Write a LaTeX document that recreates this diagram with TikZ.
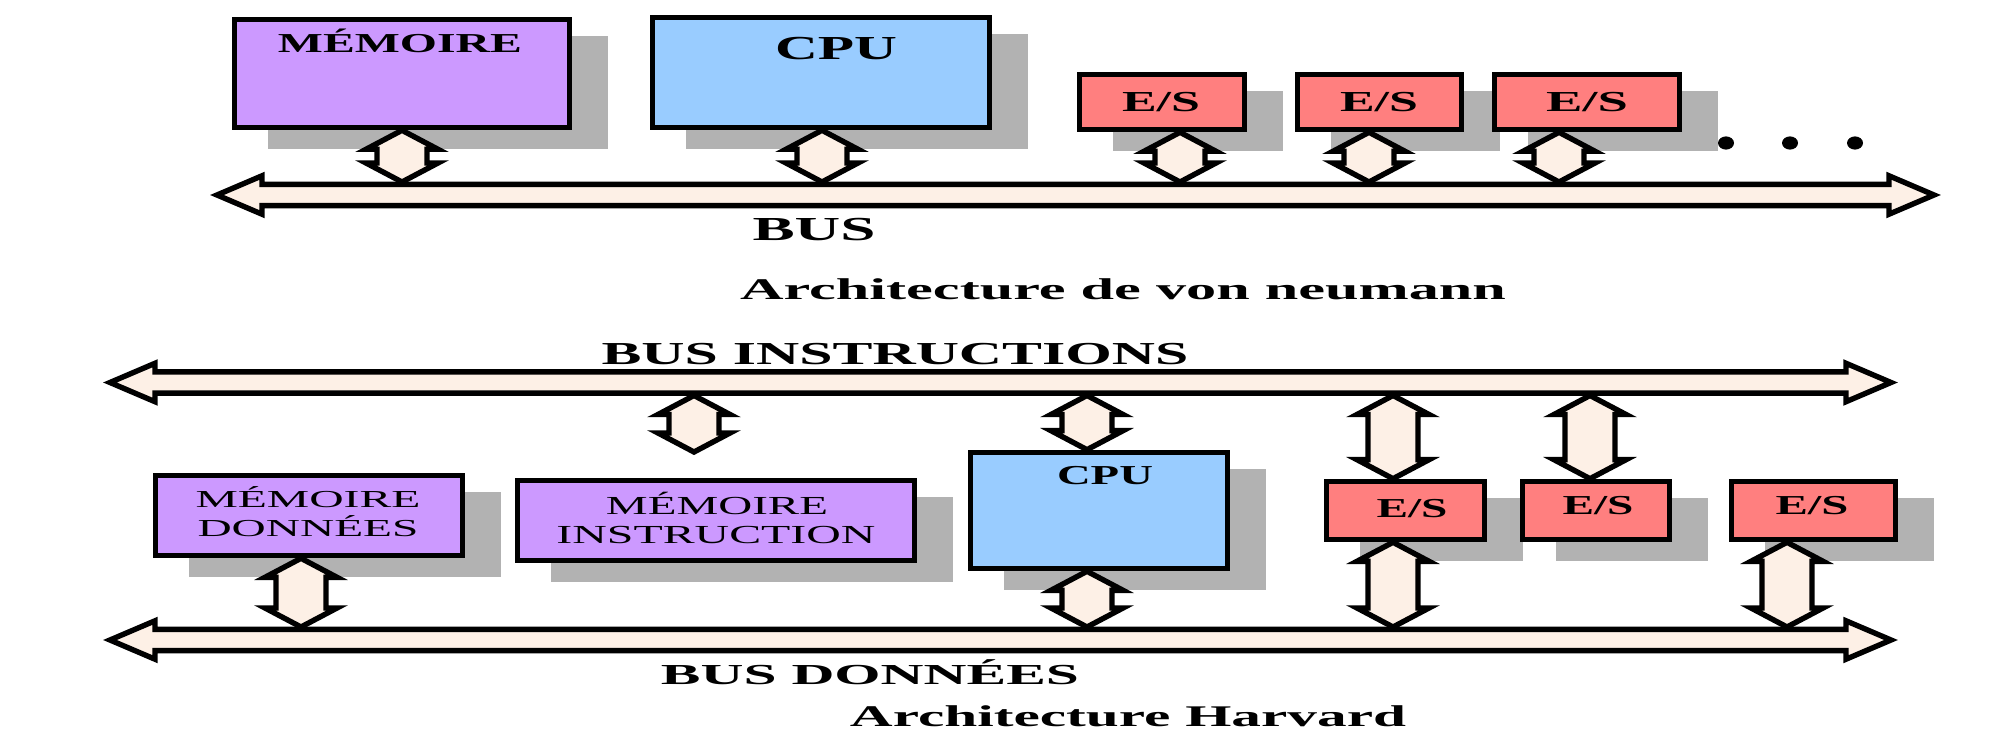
\documentclass[tikz,border=0pt]{standalone}
\usepackage{fontspec}
\setmainfont{Liberation Serif}
\usepackage{graphicx}
\usetikzlibrary{calc}
\definecolor{memcol}{HTML}{CC99FF}
\definecolor{cpucol}{HTML}{99CCFF}
\definecolor{escol}{HTML}{FF7F7F}
\definecolor{buscol}{HTML}{FDF0E6}
\definecolor{shadcol}{HTML}{B2B2B2}
\newsavebox\fitbox
\newcommand\fitw[3]{\sbox\fitbox{\fontsize{#2}{#2}\selectfont #3}\resizebox{#1}{\height}{\usebox\fitbox}}
\tikzset{
  box/.style={draw=black, line width=2.8pt, inner sep=0pt},
  lbl/.style={anchor=base, inner sep=0pt, outer sep=0pt},
  fatarr/.style={draw=black, fill=buscol, line width=2.7pt, line join=miter},
  shad/.style={fill=shadcol},
}
% vertical fat double arrow between two points (top, bottom)
\newcommand\fatarrow[2]{%
  \draw[fatarr] let \p1=(#1), \p2=(#2) in
   (\x1,\y1) -- (\x1+18pt,\y1-9.5pt) -- (\x1+12.5pt,\y1-9.5pt) -- (\x1+12.5pt,\y2+9.5pt)
   -- (\x1+18pt,\y2+9.5pt) -- (\x1,\y2) -- (\x1-18pt,\y2+9.5pt) -- (\x1-12.5pt,\y2+9.5pt)
   -- (\x1-12.5pt,\y1-9.5pt) -- (\x1-18pt,\y1-9.5pt) -- cycle;}
% horizontal fat double arrow (bus) between two points (left, right)
\newcommand\fatbus[2]{%
  \draw[fatarr] let \p1=(#1), \p2=(#2) in
   (\x1,\y1) -- (\x1+22.5pt,\y1+9.6pt) -- (\x1+22.5pt,\y1+5.3pt) -- (\x2-22.5pt,\y1+5.3pt)
   -- (\x2-22.5pt,\y1+9.6pt) -- (\x2,\y1) -- (\x2-22.5pt,\y1-9.6pt) -- (\x2-22.5pt,\y1-5.3pt)
   -- (\x1+22.5pt,\y1-5.3pt) -- (\x1+22.5pt,\y1-9.6pt) -- cycle;}
\begin{document}
\begin{tikzpicture}[x=0.5pt,y=-0.5pt]
\fill[white] (0,0) rectangle (1990,731);
\useasboundingbox (0,0) rectangle (1990,731);

% ---------- shadows ----------
\fill[shad] (268,36) rectangle (608,149);
\fill[shad] (686,34) rectangle (1028,149);
\fill[shad] (1113,91) rectangle (1283,151);
\fill[shad] (1331,91) rectangle (1500,151);
\fill[shad] (1528,91) rectangle (1718,151);
\fill[shad] (189,492) rectangle (501,577);
\fill[shad] (551,497) rectangle (953,582);
\fill[shad] (1004,469) rectangle (1266,590);
\fill[shad] (1360,498) rectangle (1523,561);
\fill[shad] (1556,498) rectangle (1708,561);
\fill[shad] (1765,498) rectangle (1934,561);

% ---------- buses ----------
\coordinate (busAL) at (217,195);
\coordinate (busAR) at (1934,195);
\coordinate (busIL) at (110,382.5);
\coordinate (busIR) at (1891,382.5);
\coordinate (busDL) at (110,640);
\coordinate (busDR) at (1891,640);
\fatbus{busAL}{busAR}
\fatbus{busIL}{busIR}
\fatbus{busDL}{busDR}

% ---------- boxes ----------
\node[box, fill=memcol, minimum width=167.5pt, minimum height=54pt] (memA) at (402,73.5) {};
\node[box, fill=cpucol, minimum width=168.5pt, minimum height=55pt] (cpuA) at (821,72.5) {};
\node[box, fill=escol, minimum width=82.5pt, minimum height=27.5pt] (es1A) at (1162,102) {};
\node[box, fill=escol, minimum width=82pt, minimum height=27.5pt] (es2A) at (1379.5,102) {};
\node[box, fill=escol, minimum width=92.5pt, minimum height=27.5pt] (es3A) at (1587,102) {};
\node[box, fill=memcol, minimum width=153.5pt, minimum height=40pt] (memD) at (309,515.5) {};
\node[box, fill=memcol, minimum width=198.5pt, minimum height=40pt] (memI) at (716,520.5) {};
\node[box, fill=cpucol, minimum width=128.5pt, minimum height=58pt] (cpuB) at (1099,510.5) {};
\node[box, fill=escol, minimum width=79pt, minimum height=29pt] (es1B) at (1405.5,510.5) {};
\node[box, fill=escol, minimum width=73.5pt, minimum height=29pt] (es2B) at (1596,510.5) {};
\node[box, fill=escol, minimum width=82pt, minimum height=29pt] (es3B) at (1813.5,510.5) {};

% ---------- arrow columns ----------
\coordinate (a1) at (402,0);
\coordinate (a2) at (822,0);
\coordinate (a3) at (1180,0);
\coordinate (a4) at (1369,0);
\coordinate (a5) at (1559,0);
\coordinate (b1) at (694,0);
\coordinate (b2) at (1087,0);
\coordinate (b3) at (1393,0);
\coordinate (b4) at (1590,0);
\coordinate (b5) at (301,0);
\coordinate (b8) at (1787,0);
\coordinate (miend) at (694,452);

% von Neumann
\fatarrow{memA.south -| a1}{$(busAL -| a1)+(0,-13)$}
\fatarrow{cpuA.south -| a2}{$(busAL -| a2)+(0,-13)$}
\fatarrow{es1A.south -| a3}{$(busAL -| a3)+(0,-13)$}
\fatarrow{es2A.south -| a4}{$(busAL -| a4)+(0,-13)$}
\fatarrow{es3A.south -| a5}{$(busAL -| a5)+(0,-13)$}
% Harvard, instruction bus
\fatarrow{$(busIL -| b1)+(0,13)$}{miend}
\fatarrow{$(busIL -| b2)+(0,13)$}{cpuB.north -| b2}
\fatarrow{$(busIL -| b3)+(0,13)$}{es1B.north -| b3}
\fatarrow{$(busIL -| b4)+(0,13)$}{es2B.north -| b4}
% Harvard, data bus
\fatarrow{memD.south -| b5}{$(busDL -| b5)+(0,-13)$}
\fatarrow{cpuB.south -| b2}{$(busDL -| b2)+(0,-13)$}
\fatarrow{es1B.south -| b3}{$(busDL -| b3)+(0,-13)$}
\fatarrow{es3B.south -| b8}{$(busDL -| b8)+(0,-13)$}

% dots
\fill (1726,143) ellipse [x radius=4pt, y radius=3.3pt];
\fill (1790,143) ellipse [x radius=4pt, y radius=3.3pt];
\fill (1855,143) ellipse [x radius=4pt, y radius=3.3pt];

% ---------- labels ----------
\node[lbl] (tmemA) at (400,53) {\fitw{122pt}{13.7pt}{\bfseries MÉMOIRE}};
\node[lbl] (tcpuA) at (836,60) {\fitw{61pt}{16.8pt}{\bfseries CPU}};
\node[lbl] (tes1A) at (1161,112) {\fitw{39pt}{14.5pt}{\bfseries E/S}};
\node[lbl] (tes2A) at (1379,112) {\fitw{39pt}{14.5pt}{\bfseries E/S}};
\node[lbl] (tes3A) at (1587,112) {\fitw{41pt}{14.5pt}{\bfseries E/S}};
\node[lbl] (tbusA) at (814,241) {\fitw{61.5pt}{16.8pt}{\bfseries BUS}};
\node[lbl] (tvn) at (1123,300) {\fitw{383pt}{15pt}{\bfseries Architecture de von neumann}};
\node[lbl] (tbusI) at (895,365) {\fitw{293.5pt}{16pt}{\bfseries BUS INSTRUCTIONS}};
\node[lbl] (tcpuB) at (1105,485) {\fitw{48pt}{13.7pt}{\bfseries CPU}};
\node[lbl] (tes1B) at (1412,517) {\fitw{35.5pt}{13.7pt}{\bfseries E/S}};
\node[lbl] (tes2B) at (1598,515) {\fitw{35.5pt}{13.7pt}{\bfseries E/S}};
\node[lbl] (tes3B) at (1812,515) {\fitw{36.5pt}{13.7pt}{\bfseries E/S}};
\node[lbl] (tmemD1) at (308,508) {\fitw{112.5pt}{12.2pt}{MÉMOIRE}};
\node[lbl] (tmemD2) at (308,537) {\fitw{110.5pt}{12.2pt}{DONNÉES}};
\node[lbl] (tmemI1) at (717,515) {\fitw{111pt}{13pt}{MÉMOIRE}};
\node[lbl] (tmemI2) at (716,543) {\fitw{159.5pt}{13pt}{INSTRUCTION}};
\node[lbl] (tbusD) at (870,684) {\fitw{209pt}{14.5pt}{\bfseries BUS DONNÉES}};
\node[lbl] (tharv) at (1128,726) {\fitw{278pt}{15pt}{\bfseries Architecture Harvard}};
\end{tikzpicture}
\end{document}
